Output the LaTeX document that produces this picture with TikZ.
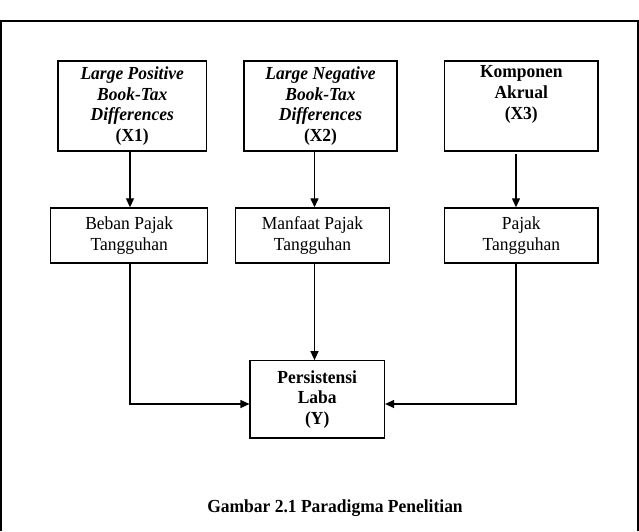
\documentclass[tikz,border=0pt]{standalone}
\usepackage{fontspec}
\setmainfont{Liberation Serif}[FakeStretch=0.95]
\usetikzlibrary{arrows.meta,positioning}

\begin{document}
\begin{tikzpicture}[x=1pt,y=-1pt,
    every node/.style={font=\fontsize{18.4}{20.8}\selectfont},
    topbox/.style={draw,line width=1.2pt,align=center,inner sep=0pt,minimum height=90pt},
    midbox/.style={draw,line width=1.2pt,align=center,inner sep=0pt,minimum height=55pt},
    >={Triangle[length=9pt,width=8pt]}]

    \useasboundingbox (0,0) rectangle (639,531);
    % outer frame, open at the bottom
    \draw[line width=1.2pt] (1,531) -- (1,21) -- (638,21) -- (638,531);

    % independent variables
    \node[topbox,minimum width=148.5pt] (b1) at (132.25,106)
        {\bfseries\itshape Large Positive\\\bfseries\itshape Book-Tax\\\bfseries\itshape Differences\\\bfseries (X1)};
    \node[topbox,minimum width=153pt] (b2) at (320.5,106)
        {\bfseries\itshape Large Negative\\\bfseries\itshape Book-Tax\\\bfseries\itshape Differences\\\bfseries (X2)};
    \node[topbox,minimum width=153.4pt] (b3) at (521.3,106)
        {\bfseries Komponen\\\bfseries Akrual\\\bfseries (X3)\\\strut};

    % deferred tax items
    \node[midbox,minimum width=157pt] (b4) at (129.25,235.4) {Beban Pajak\\Tangguhan};
    \node[midbox,minimum width=154pt] (b5) at (312.5,235.4) {Manfaat Pajak\\Tangguhan};
    \node[midbox,minimum width=153.4pt] (b6) at (521.3,235.4) {Pajak\\Tangguhan};

    % dependent variable
    \node[draw,line width=1.2pt,align=center,inner sep=0pt,minimum width=134.5pt,minimum height=77.3pt]
        (y) at (317.25,399.4) {\bfseries Persistensi\\\bfseries Laba\\\bfseries (Y)};

    \draw[->,line width=1.2pt] ([xshift=-2.25]b1.south) -- ([xshift=-2.25]b1.south |- b4.north);
    \draw[->,line width=1.2pt] ([xshift=-6]b2.south) -- ([xshift=-6]b2.south |- b5.north);
    \draw[->,line width=1.2pt] ([xshift=-5.3,yshift=-2]b3.south) -- ([xshift=-5.3]b3.south |- b6.north);

    \draw[->,line width=1.2pt] ([xshift=2]b5.south) -- ([xshift=2]b5.south |- y.north);
    \draw[->,line width=1.2pt] ([xshift=0.75]b4.south) |- ([yshift=-4.6]y.west);
    \draw[->,line width=1.2pt] ([xshift=-5.3]b6.south) |- ([yshift=-4.6]y.east);

    \node[font=\fontsize{18.4}{20.8}\selectfont\bfseries] (cap) at (335,508) {Gambar 2.1 Paradigma Penelitian};
\end{tikzpicture}
\end{document}
